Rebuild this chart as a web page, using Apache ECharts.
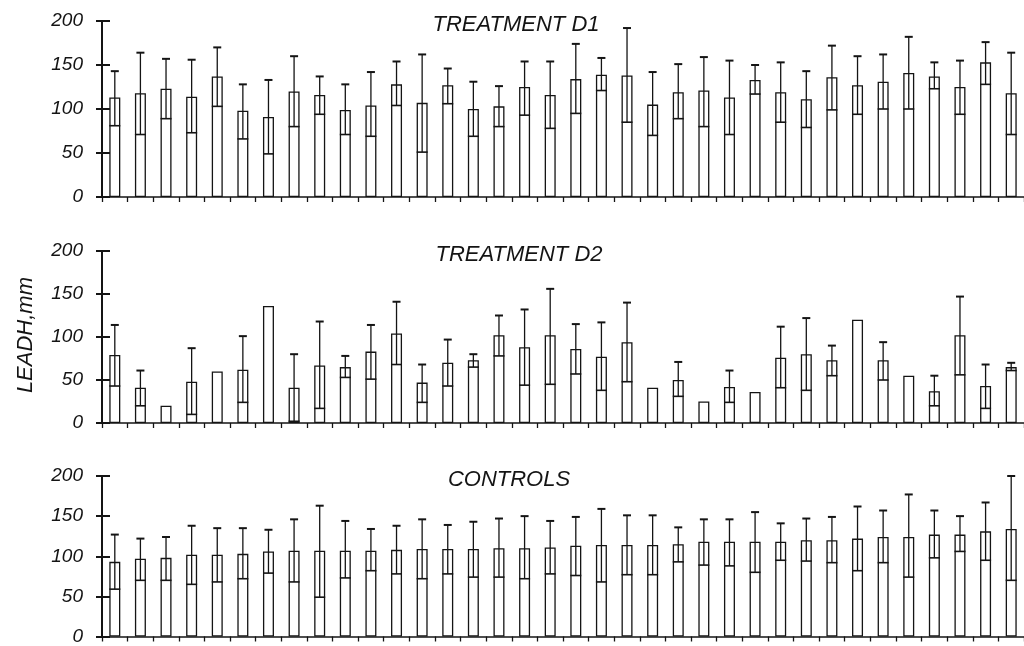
<!DOCTYPE html>
<html>
<head>
<meta charset="utf-8">
<script src="https://cdn.jsdelivr.net/npm/echarts@6/dist/echarts.min.js"></script>
<style>
html,body{margin:0;padding:0;background:#fff;}
#chart{width:1024px;height:646px;}
</style>
</head>
<body>
<div id="chart"></div>
<script>
// ---- data ----
const categories = ['1','2','3','4','5','6','7','8','9','10','11','12','13','14','15','16','17','18',
  '19','20','21','22','23','24','25','26','27','28','29','30','31','32','33','34','35','36'];
const yTicks = [0, 50, 100, 150, 200];
const panelTitles = ['TREATMENT D1', 'TREATMENT D2', 'CONTROLS'];
const yAxisName = 'LEADH,mm';

const d1Mean  = [113,118,123,114,137,98,91,120,116,99,104,128,107,127,100,103,125,116,134,139,138,105,119,121,113,133,119,111,136,127,131,141,137,125,153,118];
const d1Upper = [143,164,157,156,170,128,133,160,137,128,142,154,162,146,131,126,154,154,174,158,192,142,151,159,155,150,153,143,172,160,162,182,153,155,176,164];
const d1Lower = [81,71,89,73,103,66,49,80,94,71,69,104,51,106,69,80,93,78,95,121,85,70,89,80,71,117,85,79,99,94,100,100,123,94,128,71];

const d2Mean  = [79,41,20,48,60,62,136,41,67,65,83,104,47,70,73,102,88,102,86,77,94,41,50,25,42,36,76,80,73,120,73,55,37,102,43,65];
const d2Upper = [114,61,null,87,null,101,null,80,118,78,114,141,68,97,80,125,132,156,115,117,140,null,71,null,61,null,112,122,90,null,94,null,55,147,68,70];
const d2Lower = [43,20,null,10,null,24,null,2,17,53,51,68,24,43,65,78,44,45,57,38,48,null,31,null,24,null,41,38,55,null,50,null,20,56,17,61];

const ctMean  = [93,97,98,102,102,103,106,107,107,107,107,108,109,109,109,110,110,111,113,114,114,114,115,118,118,118,118,120,120,122,124,124,127,127,131,134];
const ctUpper = [127,122,124,138,135,135,133,146,163,144,134,138,146,139,143,147,150,144,149,159,151,151,136,146,146,155,141,147,149,162,157,177,157,150,167,200];
const ctLower = [59,70,70,65,68,72,79,68,49,73,82,78,72,78,74,74,72,78,76,68,77,77,93,89,88,80,95,94,92,82,92,74,98,106,95,70];

// ---- layout ----
const grids = [
  {left: 102, top: 21, width: 930.6, height: 176},
  {left: 102, top: 251, width: 930.6, height: 172},
  {left: 102, top: 476, width: 930.6, height: 166}
];
const titleTops = [14, 244, 469];
const font = '"Liberation Sans", Arial, sans-serif';
const ink = '#141414';

function errData(lo, hi) {
  const out = [];
  for (let i = 0; i < lo.length; i++) {
    if (lo[i] != null && hi[i] != null) out.push([i, lo[i], hi[i]]);
  }
  return out;
}

function errRender(params, api) {
  const x = api.value(0), lo = api.value(1), hi = api.value(2);
  const pHi = api.coord([x, hi]);
  const pLo = api.coord([x, lo]);
  return {
    type: 'group',
    children: [
      {type: 'line', shape: {x1: pHi[0], y1: pHi[1], x2: pLo[0], y2: pLo[1]}, style: {stroke: ink, lineWidth: 1.3}},
      {type: 'line', shape: {x1: pHi[0] - 4, y1: pHi[1], x2: pHi[0] + 4, y2: pHi[1]}, style: {stroke: ink, lineWidth: 2}},
      {type: 'line', shape: {x1: pLo[0] - 5.5, y1: pLo[1], x2: pLo[0] + 5.5, y2: pLo[1]}, style: {stroke: ink, lineWidth: 1.6}}
    ]
  };
}

const means = [d1Mean, d2Mean, ctMean];
const lows = [d1Lower, d2Lower, ctLower];
const highs = [d1Upper, d2Upper, ctUpper];

const xAxes = [], yAxes = [], series = [], titles = [];
for (let p = 0; p < 3; p++) {
  xAxes.push({
    type: 'category', gridIndex: p, data: categories,
    axisLine: {lineStyle: {color: ink, width: 1.6}},
    axisTick: {show: true, length: 5, lineStyle: {color: ink, width: 1.3}},
    axisLabel: {show: false}
  });
  yAxes.push({
    type: 'value', gridIndex: p, position: 'left', min: yTicks[0], max: yTicks[yTicks.length - 1], interval: 50,
    axisLine: {show: true, lineStyle: {color: ink, width: 2}},
    axisTick: {show: true, length: 6, lineStyle: {color: ink, width: 2}},
    splitLine: {show: false},
    axisLabel: {margin: 19, fontFamily: font, fontStyle: 'italic', fontSize: 19, color: ink}
  });
  // inner half of the crossing y ticks
  yAxes.push({
    type: 'value', gridIndex: p, position: 'left', offset: 0, min: yTicks[0], max: yTicks[yTicks.length - 1], interval: 50,
    axisLine: {show: false},
    axisTick: {show: true, inside: true, length: 8, lineStyle: {color: ink, width: 2}},
    splitLine: {show: false},
    axisLabel: {show: false}
  });
  series.push({
    type: 'bar', xAxisIndex: p, yAxisIndex: 2 * p, data: means[p], barWidth: 11,
    itemStyle: {color: '#fff', borderColor: ink, borderWidth: 1.3},
    silent: true, animation: false
  });
  series.push({
    type: 'custom', xAxisIndex: p, yAxisIndex: 2 * p, renderItem: errRender,
    data: errData(lows[p], highs[p]), encode: {x: 0, y: [1, 2]},
    silent: true, animation: false, z: 3
  });
  titles.push({
    text: panelTitles[p], left: [516, 519, 509][p], top: titleTops[p], textAlign: 'center', padding: 0,
    textStyle: {fontFamily: font, fontStyle: 'italic', fontWeight: 'normal', fontSize: 22, color: ink}
  });
}

const chart = echarts.init(document.getElementById('chart'), null, {renderer: 'canvas'});
chart.setOption({
  animation: false,
  backgroundColor: '#fff',
  title: titles,
  grid: grids,
  xAxis: xAxes,
  yAxis: yAxes,
  series: series,
  graphic: [{
    type: 'text', left: 15, top: 277, rotation: Math.PI / 2,
    style: {text: yAxisName, font: 'italic 22px ' + font, fill: ink}
  }]
});
</script>
</body>
</html>
